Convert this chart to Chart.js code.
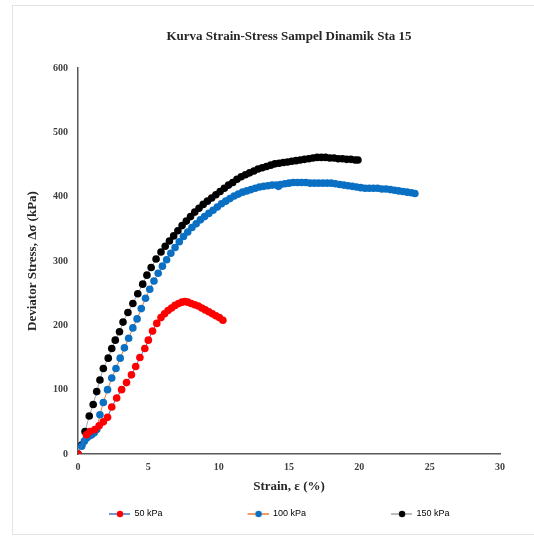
<!DOCTYPE html>
<html>
<head>
<meta charset="utf-8">
<script src="https://cdn.jsdelivr.net/npm/chart.js@4/dist/chart.umd.min.js"></script>
<style>
  body { margin: 0; background: #fff; }
  #wrap { position: relative; width: 534px; height: 537px; overflow: hidden; }
  #frame { position: absolute; left: 12px; top: 5px; width: 540px; height: 530px; border: 1px solid #e3e3e3; box-sizing: border-box; }
  #chart { position: absolute; left: 0; top: 0; }
</style>
</head>
<body>
<div id="wrap">
  <div id="frame"></div>
  <canvas id="chart" width="534" height="537"></canvas>
</div>
<script>
const chartTitle = "Kurva Strain-Stress Sampel Dinamik Sta 15";
const xTitle = "Strain, ε (%)";
const yTitle = "Deviator Stress, Δσ (kPa)";
const seriesNames = ["50 kPa", "100 kPa", "150 kPa"];

// 50 kPa
const strain50 = [0, 0.6, 0.85, 1.2, 1.5, 1.8, 2.1, 2.4, 2.75, 3.1, 3.45, 3.8, 4.1, 4.4, 4.75, 5.0, 5.3, 5.6, 5.9,
  6.15, 6.4, 6.65, 6.9, 7.15, 7.4, 7.6, 7.8, 8.05, 8.3, 8.55, 8.8, 9.05, 9.3, 9.55, 9.8, 10.05, 10.3];
const stress50 = [0, 30, 35, 38, 44, 50, 57, 73, 87, 100, 111, 123, 136, 150, 164, 177, 191, 203, 212,
  218, 223, 227, 231, 234, 236, 237, 236, 234, 232, 230, 227, 224, 221, 218, 215, 212, 208];

// 100 kPa
const strain100 = [0, 0.26, 0.45, 0.62, 0.8, 0.97, 1.15, 1.33, 1.56, 1.8, 2.1, 2.4, 2.7, 3.0, 3.3, 3.6, 3.9, 4.2, 4.5,
  4.8, 5.1, 5.4, 5.7, 6.0, 6.3, 6.6, 6.9, 7.2, 7.5, 7.8, 8.1, 8.4, 8.7, 9.0, 9.3, 9.6, 9.9, 10.2, 10.5, 10.8,
  11.1, 11.4, 11.7, 12.0, 12.3, 12.6, 12.9, 13.2, 13.5, 13.8, 14.1, 14.25, 14.4, 14.7, 15.0, 15.3, 15.6, 15.9,
  16.2, 16.5, 16.8, 17.1, 17.4, 17.7, 18.0, 18.3, 18.6, 18.9, 19.2, 19.5, 19.8, 20.1, 20.4, 20.7, 21.0, 21.3,
  21.6, 21.9, 22.2, 22.5, 22.8, 23.1, 23.4, 23.7, 23.95];
const stress100 = [0, 12, 20, 25, 28, 30, 33, 38, 61, 80, 100, 118, 133, 149, 165, 180, 196, 210, 226,
  242, 256, 269, 281, 292, 302, 312, 321, 330, 338, 345, 352, 358, 364, 369, 374, 379, 384, 389, 393, 397,
  401, 404, 407, 409, 411, 413, 415, 416, 417, 418, 418, 416, 419, 420, 421, 422, 422, 422,
  422, 421, 421, 421, 421, 421, 421, 420, 419, 418, 417, 416, 415, 414, 413, 413, 413, 413,
  412, 412, 411, 410, 409, 408, 407, 406, 405];

// 150 kPa
const strain150 = [0, 0.26, 0.5, 0.8, 1.08, 1.33, 1.56, 1.8, 2.15, 2.4, 2.65, 2.95, 3.2, 3.55, 3.9, 4.25, 4.6, 4.9,
  5.2, 5.55, 5.9, 6.2, 6.5, 6.8, 7.1, 7.4, 7.7, 8.0, 8.3, 8.6, 8.9, 9.2, 9.5, 9.8, 10.1, 10.4, 10.7, 11.0,
  11.3, 11.6, 11.9, 12.2, 12.5, 12.8, 13.1, 13.4, 13.7, 14.0, 14.3, 14.6, 14.9, 15.2, 15.5, 15.8, 16.1, 16.4,
  16.7, 17.0, 17.3, 17.6, 17.9, 18.2, 18.5, 18.8, 19.1, 19.4, 19.7, 19.9];
const stress150 = [0, 14, 35, 59, 77, 97, 115, 133, 149, 164, 177, 190, 205, 220, 234, 249, 264, 278,
  290, 303, 314, 323, 331, 339, 347, 355, 362, 369, 376, 382, 388, 393, 398, 403, 408, 413, 418, 422,
  427, 431, 434, 437, 440, 443, 445, 447, 449, 451, 452, 453, 454, 455, 456, 457, 458, 459,
  460, 461, 461, 461, 460, 460, 459, 459, 458, 458, 457, 457];

const markerColors = ["#ff0000", "#0a70c4", "#000000"];
const lineColors = ["#4472c4", "#ed7d31", "#a5a5a5"];

function toPoints(xs, ys) {
  return xs.map((x, i) => ({ x: x, y: ys[i] }));
}

// legend icon: line with a dot, placed at the right end of a wide box
function legendIcon(lineColor, dotColor) {
  const c = document.createElement("canvas");
  c.width = 96;
  c.height = 10;
  const g = c.getContext("2d");
  g.strokeStyle = lineColor;
  g.lineWidth = 1.5;
  g.beginPath();
  g.moveTo(75, 5);
  g.lineTo(96, 5);
  g.stroke();
  g.fillStyle = dotColor;
  g.beginPath();
  g.arc(86, 5, 3.2, 0, Math.PI * 2);
  g.fill();
  return c;
}

const serif = "'Liberation Serif', 'Times New Roman', serif";

const datasets = [
  toPoints(strain50, stress50),
  toPoints(strain100, stress100),
  toPoints(strain150, stress150)
].map((pts, i) => ({
  label: seriesNames[i],
  data: pts,
  showLine: true,
  borderColor: lineColors[i],
  borderWidth: 1,
  pointRadius: 3.8,
  pointBackgroundColor: markerColors[i],
  pointBorderColor: markerColors[i],
  pointBorderWidth: 0,
  tension: 0
}));

new Chart(document.getElementById("chart").getContext("2d"), {
  type: "scatter",
  data: { datasets: datasets },
  options: {
    responsive: false,
    animation: false,
    layout: { padding: { left: 24, right: 34, top: 18, bottom: 8.5 } },
    plugins: {
      title: {
        display: true,
        text: chartTitle,
        fullSize: false,
        color: "#262626",
        font: { family: serif, size: 13, weight: "bold" },
        padding: { top: 11.2, bottom: 23.2 }
      },
      legend: {
        position: "bottom",
        align: "start",
        labels: {
          usePointStyle: true,
          pointStyleWidth: 96,
          padding: 10,
          color: "#595959",
          font: { family: "'Liberation Sans', Arial, sans-serif", size: 9 },
          generateLabels: chart => chart.data.datasets.map((ds, i) => ({
            text: ds.label,
            pointStyle: legendIcon(lineColors[i], markerColors[i]),
            fillStyle: markerColors[i],
            strokeStyle: lineColors[i],
            lineWidth: 0,
            datasetIndex: i,
            hidden: false
          }))
        }
      },
      tooltip: { enabled: false }
    },
    scales: {
      x: {
        type: "linear",
        min: 0,
        max: 30,
        afterFit: s => { s.height = 45.5; },
        grid: { display: true, drawOnChartArea: false, drawTicks: false },
        border: { color: "#595959", width: 1.5 },
        ticks: { stepSize: 5, padding: 7, color: "#404040", font: { family: serif, size: 10, weight: "bold" } },
        title: {
          display: true,
          text: xTitle,
          color: "#262626",
          font: { family: serif, size: 13, weight: "bold" },
          padding: { top: 0, bottom: 4.7 }
        }
      },
      y: {
        type: "linear",
        min: 0,
        max: 600,
        afterFit: s => { s.width = 54; },
        grid: { display: true, drawOnChartArea: false, drawTicks: false },
        border: { color: "#595959", width: 1.5 },
        ticks: { stepSize: 100, padding: 10, color: "#404040", font: { family: serif, size: 10, weight: "bold" } },
        title: {
          display: true,
          text: yTitle,
          color: "#262626",
          font: { family: serif, size: 13, weight: "bold" },
          padding: { top: 0.7, bottom: 0 }
        }
      }
    }
  }
});
</script>
</body>
</html>
